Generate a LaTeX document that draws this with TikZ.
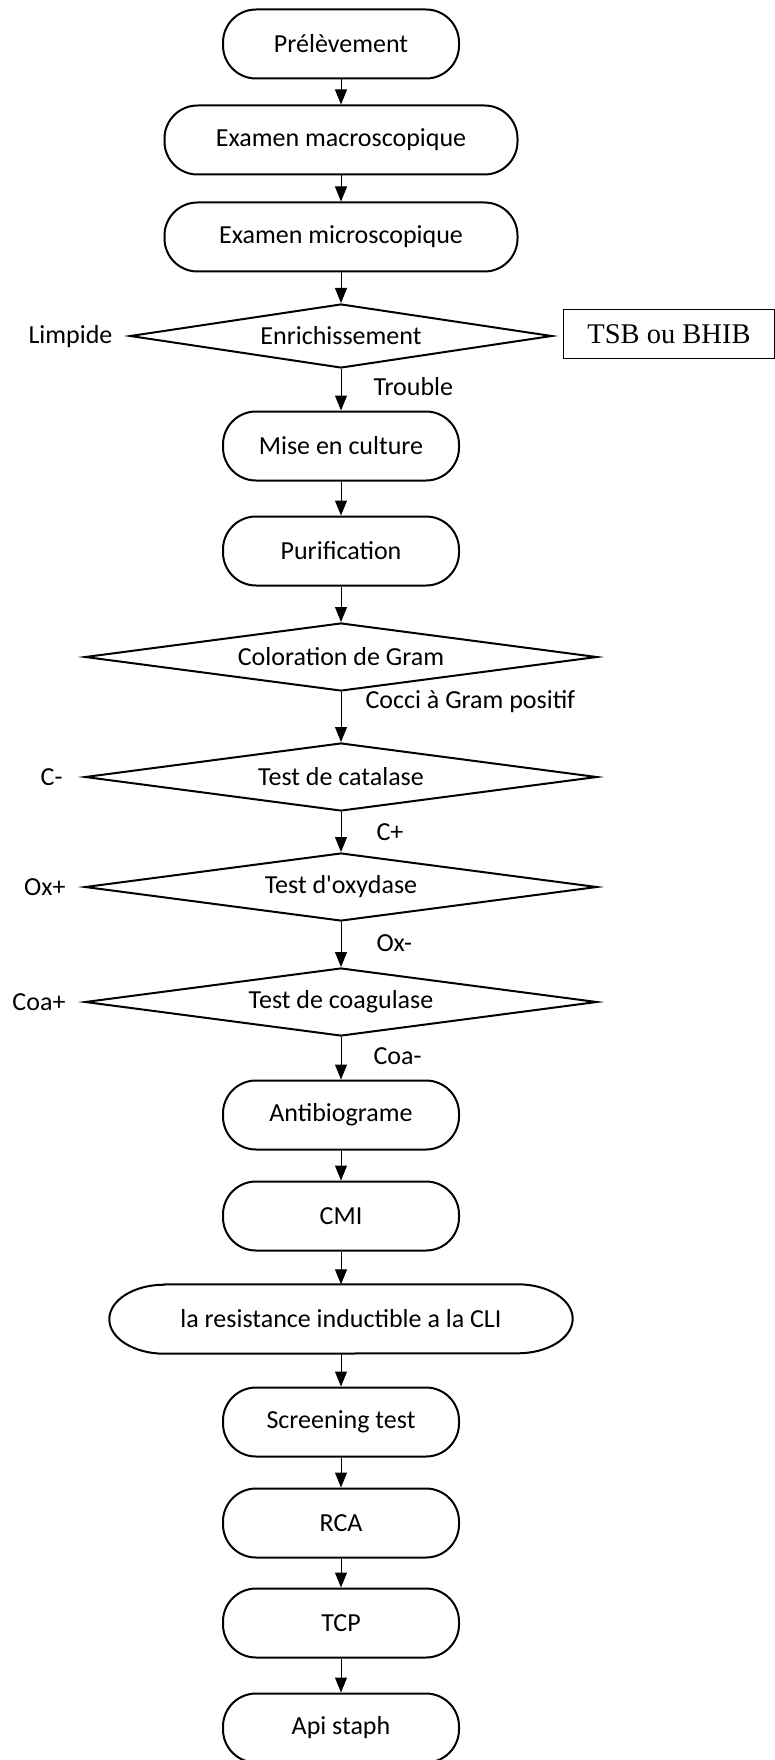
\documentclass[tikz,border=0pt]{standalone}
\usepackage{fontspec}
\setmainfont{Carlito}
\newfontfamily\timesfont{Liberation Serif}
\usepackage{tikz}
\usetikzlibrary{shapes.geometric, arrows.meta}

\begin{document}
\begin{tikzpicture}[x=1pt, y=-1pt,
  every node/.style={font=\fontsize{26}{30}\selectfont},
  etape/.style={draw, line width=2pt, rounded corners=33pt, minimum width=236pt, minimum height=69pt, inner sep=0pt},
  test/.style={draw, diamond, aspect=7.5, line width=2pt, minimum width=512pt, minimum height=68pt, inner sep=0pt},
  fleche/.style={-{Triangle[length=15pt, width=12pt]}, line width=1pt}]
\useasboundingbox (0,0) rectangle (774,1760);

% Premieres etapes
\node[etape] (pre) at (341, 44) {Prélèvement};
\node[etape, minimum width=353pt] (macro) at (341, 140) {Examen macroscopique};
\node[etape, minimum width=353pt] (micro) at (341, 237) {Examen microscopique};

% Enrichissement
\node[test, aspect=6.6, minimum width=422pt, minimum height=64pt] (enrich) at (341, 336) {Enrichissement};
\node[anchor=east] (limpide) at (116, 337) {Limpide};
\node[draw, line width=1.5pt, minimum width=211pt, minimum height=49pt, inner sep=0pt, font=\timesfont\fontsize{28.5}{32}\selectfont] (tsb) at (669, 334) {TSB ou BHIB};
\node[anchor=west] (trouble) at (370, 387) {Trouble};

% Culture
\node[etape] (culture) at (341, 446) {Mise en culture};
\node[etape] (purif) at (341, 551) {Purification};

% Tests d'identification
\node[test] (gram) at (341, 657) {Coloration de Gram};
\node[anchor=west] (cocci) at (362, 702) {Cocci à Gram positif};

\node[test] (catal) at (341, 777) {Test de catalase};
\node[anchor=east] (cmoins) at (66, 777) {C-};
\node[anchor=west] (cplus) at (373, 832) {C+};

\node[test] (oxy) at (341, 887) {Test d\textquotesingle oxydase};
\node[anchor=east] (oxplus) at (69, 887) {Ox+};
\node[anchor=west] (oxmoins) at (373, 943) {Ox-};

\node[test] (coag) at (341, 1002) {Test de coagulase};
\node[anchor=east] (coaplus) at (69, 1002) {Coa+};
\node[anchor=west] (coamoins) at (370, 1056) {Coa-};

% Antibiogramme et suite
\node[etape] (antibio) at (341, 1115) {Antibiograme};
\node[etape] (cmi) at (341, 1216) {CMI};
\node[minimum width=463pt, minimum height=69pt, inner sep=0pt] (cli) at (341, 1319) {la resistance inductible a la CLI};
\draw[line width=2pt] ([xshift=55pt]cli.north west) -- ([xshift=-55pt]cli.north east)
  arc[start angle=90, end angle=-90, x radius=55pt, y radius=34.5pt]
  -- ([xshift=55pt]cli.south west)
  arc[start angle=270, end angle=90, x radius=55pt, y radius=34.5pt] -- cycle;
\node[etape] (screen) at (341, 1422) {Screening test};
\node[etape] (rca) at (341, 1523) {RCA};
\node[etape] (tcp) at (341, 1623) {TCP};
\node[etape] (api) at (341, 1728) {Api staph};

% Fleches
\foreach \a/\b in {pre/macro, macro/micro, micro/enrich, enrich/culture, culture/purif,
  purif/gram, gram/catal, catal/oxy, oxy/coag, coag/antibio, antibio/cmi, cmi/cli,
  cli/screen, screen/rca, rca/tcp, tcp/api}
  \draw[fleche] (\a.south) -- (\b.north);
\end{tikzpicture}
\end{document}
